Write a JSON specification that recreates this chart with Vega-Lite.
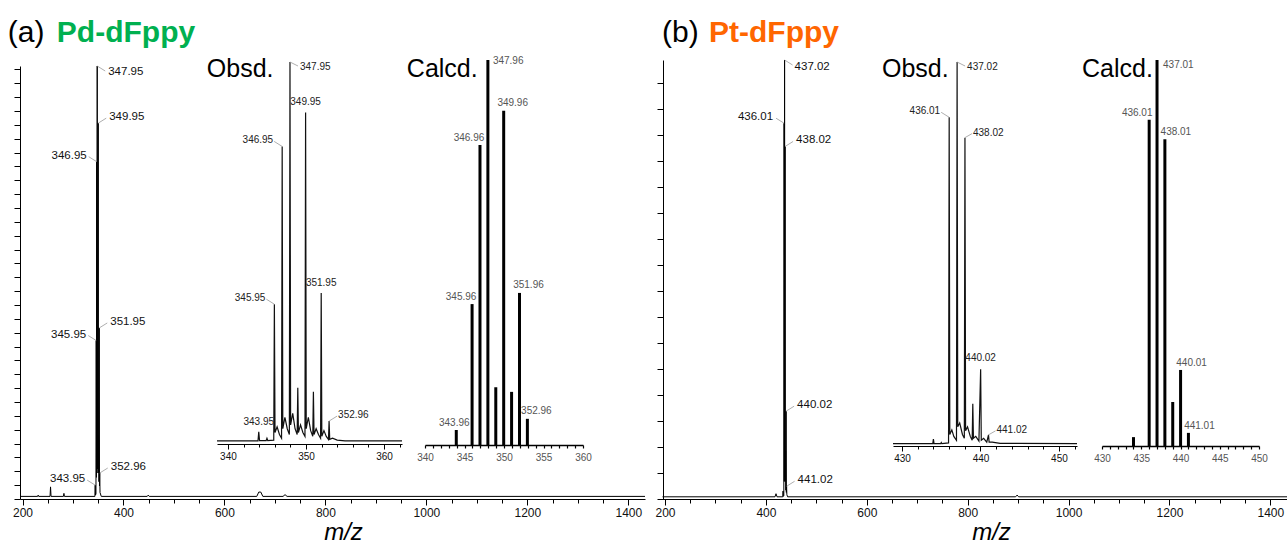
{
  "$schema": "https://vega.github.io/schema/vega-lite/v6.json",
  "width": 1287,
  "height": 543,
  "autosize": {"type": "none"},
  "padding": 0,
  "background": "white",
  "config": {
    "view": {"stroke": null},
    "font": "Liberation Sans",
    "axis": {"grid": false, "labelFont": "Liberation Sans", "titleFont": "Liberation Sans", "domainColor": "#000", "tickColor": "#000", "labelColor": "#111", "labelFlush": false, "labelOverlap": false, "format": "d"},
    "text": {"font": "Liberation Sans"}
  },
  "datasets": {
    "mainA": [
      {"mz": 195, "int": 0.6}, {"mz": 230, "int": 0.6}, {"mz": 231, "int": 0.9}, {"mz": 232, "int": 0.6},
      {"mz": 254.5, "int": 0.6}, {"mz": 255.5, "int": 2.8}, {"mz": 256.5, "int": 0.6},
      {"mz": 281, "int": 0.6}, {"mz": 282, "int": 1.3}, {"mz": 283, "int": 0.6},
      {"mz": 343.4, "int": 0.6}, {"mz": 343.95, "int": 3.2}, {"mz": 344.5, "int": 0.9},
      {"mz": 345.45, "int": 1.2}, {"mz": 345.95, "int": 36.6}, {"mz": 346.45, "int": 5},
      {"mz": 346.95, "int": 77.9}, {"mz": 347.45, "int": 7}, {"mz": 347.95, "int": 100},
      {"mz": 348.45, "int": 7}, {"mz": 348.95, "int": 14.7}, {"mz": 349.45, "int": 6},
      {"mz": 349.95, "int": 86.8}, {"mz": 350.45, "int": 6}, {"mz": 350.95, "int": 13.7},
      {"mz": 351.45, "int": 4}, {"mz": 351.95, "int": 39.5}, {"mz": 352.45, "int": 3},
      {"mz": 352.96, "int": 6}, {"mz": 353.5, "int": 1.5}, {"mz": 356, "int": 0.6},
      {"mz": 447, "int": 0.6}, {"mz": 449, "int": 0.9}, {"mz": 451, "int": 0.6},
      {"mz": 664, "int": 0.6}, {"mz": 668, "int": 1.6}, {"mz": 672, "int": 1.6}, {"mz": 676, "int": 0.6},
      {"mz": 716, "int": 0.6}, {"mz": 720, "int": 1.0}, {"mz": 724, "int": 0.6},
      {"mz": 1433, "int": 0.6}
    ],
    "pkA": [
      {"mz": 347.95, "int": 100, "label": "347.95"},
      {"mz": 349.95, "int": 86.8, "label": "349.95"},
      {"mz": 346.95, "int": 77.9, "label": "346.95"},
      {"mz": 345.95, "int": 36.6, "label": "345.95"},
      {"mz": 351.95, "int": 39.5, "label": "351.95"},
      {"mz": 352.96, "int": 6, "label": "352.96"},
      {"mz": 343.95, "int": 3.2, "label": "343.95"}
    ],
    "obsA": [
      {"mz": 338.6, "int": 0.8}, {"mz": 343.85, "int": 0.8}, {"mz": 343.95, "int": 3.2}, {"mz": 344.05, "int": 0.9},
      {"mz": 344.9, "int": 0.9}, {"mz": 345.0, "int": 1.5}, {"mz": 345.1, "int": 0.9},
      {"mz": 345.87, "int": 1}, {"mz": 345.95, "int": 36.6}, {"mz": 346.03, "int": 3}, {"mz": 346.3, "int": 4.5}, {"mz": 346.6, "int": 2.5}, {"mz": 346.87, "int": 1.5},
      {"mz": 346.95, "int": 77.9}, {"mz": 347.03, "int": 4}, {"mz": 347.3, "int": 7}, {"mz": 347.6, "int": 4}, {"mz": 347.87, "int": 2.5},
      {"mz": 347.95, "int": 100}, {"mz": 348.03, "int": 5}, {"mz": 348.3, "int": 8}, {"mz": 348.6, "int": 4}, {"mz": 348.87, "int": 2.5},
      {"mz": 348.95, "int": 14.7}, {"mz": 349.03, "int": 3}, {"mz": 349.3, "int": 5}, {"mz": 349.6, "int": 3}, {"mz": 349.87, "int": 2},
      {"mz": 349.95, "int": 86.8}, {"mz": 350.03, "int": 4}, {"mz": 350.3, "int": 7}, {"mz": 350.6, "int": 3.5}, {"mz": 350.87, "int": 2},
      {"mz": 350.95, "int": 13.7}, {"mz": 351.03, "int": 2.5}, {"mz": 351.3, "int": 4}, {"mz": 351.6, "int": 2.5}, {"mz": 351.87, "int": 1.5},
      {"mz": 351.95, "int": 39.5}, {"mz": 352.03, "int": 2}, {"mz": 352.3, "int": 3.5}, {"mz": 352.6, "int": 2}, {"mz": 352.88, "int": 1.2},
      {"mz": 352.96, "int": 6}, {"mz": 353.04, "int": 1.2}, {"mz": 353.4, "int": 1.5}, {"mz": 354, "int": 1}, {"mz": 355, "int": 0.8},
      {"mz": 362.3, "int": 0.8}
    ],
    "calA": [
      {"mz": 343.96, "int": 3.9, "label": "343.96"},
      {"mz": 345.96, "int": 36.6, "label": "345.96"},
      {"mz": 346.96, "int": 77.9, "label": "346.96"},
      {"mz": 347.96, "int": 100, "label": "347.96"},
      {"mz": 348.96, "int": 15, "label": ""},
      {"mz": 349.96, "int": 86.8, "label": "349.96"},
      {"mz": 350.96, "int": 13.8, "label": ""},
      {"mz": 351.96, "int": 39.5, "label": "351.96"},
      {"mz": 352.96, "int": 6.8, "label": "352.96"}
    ],
    "mainB": [
      {"mz": 195, "int": 0.5}, {"mz": 418, "int": 0.5}, {"mz": 420, "int": 1.2}, {"mz": 422, "int": 0.5},
      {"mz": 433.5, "int": 0.5}, {"mz": 434, "int": 1.8}, {"mz": 434.5, "int": 0.6}, {"mz": 435.5, "int": 0.8},
      {"mz": 436.01, "int": 85.6}, {"mz": 436.5, "int": 4}, {"mz": 437.02, "int": 100}, {"mz": 437.5, "int": 5},
      {"mz": 438.02, "int": 80.3}, {"mz": 438.5, "int": 4}, {"mz": 439.02, "int": 11}, {"mz": 439.5, "int": 2},
      {"mz": 440.02, "int": 20}, {"mz": 440.5, "int": 1.5}, {"mz": 441.02, "int": 2.9}, {"mz": 441.5, "int": 1},
      {"mz": 443, "int": 0.5}, {"mz": 895, "int": 0.5}, {"mz": 898, "int": 0.9}, {"mz": 901, "int": 0.5},
      {"mz": 1433, "int": 0.5}
    ],
    "pkB": [
      {"mz": 437.02, "int": 100, "label": "437.02"},
      {"mz": 436.01, "int": 85.6, "label": "436.01"},
      {"mz": 438.02, "int": 80.3, "label": "438.02"},
      {"mz": 440.02, "int": 20, "label": "440.02"},
      {"mz": 441.02, "int": 2.9, "label": "441.02"}
    ],
    "obsB": [
      {"mz": 428.85, "int": 0.6}, {"mz": 433.92, "int": 0.6}, {"mz": 434.0, "int": 1.8}, {"mz": 434.08, "int": 0.6},
      {"mz": 434.92, "int": 0.6}, {"mz": 435.0, "int": 0.9}, {"mz": 435.08, "int": 0.6},
      {"mz": 435.93, "int": 0.8}, {"mz": 436.01, "int": 85.6}, {"mz": 436.09, "int": 3}, {"mz": 436.35, "int": 4.2}, {"mz": 436.6, "int": 2.5}, {"mz": 436.94, "int": 1.5},
      {"mz": 437.02, "int": 100}, {"mz": 437.1, "int": 5}, {"mz": 437.35, "int": 6}, {"mz": 437.7, "int": 3}, {"mz": 437.94, "int": 2},
      {"mz": 438.02, "int": 80.3}, {"mz": 438.1, "int": 4}, {"mz": 438.35, "int": 5}, {"mz": 438.7, "int": 2.5}, {"mz": 438.94, "int": 1.5},
      {"mz": 439.02, "int": 11}, {"mz": 439.1, "int": 2}, {"mz": 439.4, "int": 2.5}, {"mz": 439.8, "int": 1.3},
      {"mz": 440.02, "int": 20}, {"mz": 440.1, "int": 1.5}, {"mz": 440.4, "int": 2}, {"mz": 440.8, "int": 1},
      {"mz": 441.02, "int": 2.9}, {"mz": 441.1, "int": 1}, {"mz": 441.5, "int": 1}, {"mz": 442.5, "int": 0.7},
      {"mz": 452.3, "int": 0.6}
    ],
    "calB": [
      {"mz": 434.01, "int": 2.3, "label": ""},
      {"mz": 436.01, "int": 84.5, "label": "436.01"},
      {"mz": 437.01, "int": 100, "label": "437.01"},
      {"mz": 438.01, "int": 79.5, "label": "438.01"},
      {"mz": 439.01, "int": 11.4, "label": ""},
      {"mz": 440.01, "int": 19.7, "label": "440.01"},
      {"mz": 441.01, "int": 3.4, "label": "441.01"}
    ],
    "titles": [
      {"t": "(a)"}, {"t": "Pd-dFppy"}, {"t": "(b)"}, {"t": "Pt-dFppy"}, {"t": "Obsd."}, {"t": "Calcd."}
    ]
  },
  "layer": [
    {"data": {"name": "mainA"}, "mark": {"type": "line", "color": "#000", "strokeWidth": 1},
     "encoding": {
       "x": {"field": "mz", "type": "quantitative", "scale": {"domain": [195, 1433], "range": [20, 645], "nice": false, "zero": false},
         "axis": {"orient": "bottom", "offset": -44, "values": [200, 400, 600, 800, 1000, 1200, 1400], "tickSize": 6,
           "labelFontSize": 12, "labelPadding": 2,
           "title": "m/z", "titleFontStyle": "italic", "titleFontWeight": "normal", "titleFontSize": 24, "titleColor": "#000",
           "titleX": 343, "titleY": 40, "titleAlign": "center", "titleBaseline": "alphabetic"}},
       "y": {"field": "int", "type": "quantitative", "scale": {"domain": [0, 100], "range": [499, 66], "nice": false},
         "axis": {"orient": "left", "offset": -20, "labels": false, "title": null, "tickSize": 6,
           "values": [0,3.2,6.4,9.6,12.8,16,19.2,22.4,25.6,28.8,32,35.2,38.4,41.6,44.8,48,51.2,54.4,57.6,60.8,64,67.2,70.4,73.6,76.8,80,83.2,86.4,89.6,92.8,96,99.2]}}
     }},
    {"data": {"name": "pkA"}, "transform": [{"filter": {"field": "label", "oneOf": ["347.95"]}}],
     "mark": {"type": "rule", "color": "#999", "strokeWidth": 0.8, "x2Offset": 8, "y2Offset": 5},
     "encoding": {
       "x": {"field": "mz", "type": "quantitative", "scale": {"domain": [195, 1433], "range": [20, 645], "nice": false, "zero": false},
         "axis": {"orient": "bottom", "offset": -44, "values": [250,300,350,450,500,550,650,700,750,850,900,950,1050,1100,1150,1250,1300,1350],
           "tickSize": 4, "labels": false, "domain": false, "title": null}},
       "y": {"field": "int", "type": "quantitative", "scale": {"domain": [0, 100], "range": [499, 66], "nice": false}, "axis": null},
       "x2": {"field": "mz"}, "y2": {"field": "int"}}},
    {"data": {"name": "pkA"}, "transform": [{"filter": {"field": "label", "oneOf": ["347.95"]}}],
     "mark": {"type": "text", "align": "left", "baseline": "middle", "dx": 11, "dy": 6, "fontSize": 11.5, "color": "#111"},
     "encoding": {
       "x": {"field": "mz", "type": "quantitative", "scale": {"domain": [195, 1433], "range": [20, 645], "nice": false, "zero": false}, "axis": null},
       "y": {"field": "int", "type": "quantitative", "scale": {"domain": [0, 100], "range": [499, 66], "nice": false}, "axis": null},
       "text": {"field": "label"}}},
    {"data": {"name": "pkA"}, "transform": [{"filter": {"field": "label", "oneOf": ["349.95", "351.95", "352.96"]}}],
     "mark": {"type": "rule", "color": "#999", "strokeWidth": 0.8, "x2Offset": 8, "y2Offset": -5},
     "encoding": {
       "x": {"field": "mz", "type": "quantitative", "scale": {"domain": [195, 1433], "range": [20, 645], "nice": false, "zero": false}, "axis": null},
       "y": {"field": "int", "type": "quantitative", "scale": {"domain": [0, 100], "range": [499, 66], "nice": false}, "axis": null},
       "x2": {"field": "mz"}, "y2": {"field": "int"}}},
    {"data": {"name": "pkA"}, "transform": [{"filter": {"field": "label", "oneOf": ["349.95", "351.95", "352.96"]}}],
     "mark": {"type": "text", "align": "left", "baseline": "middle", "dx": 11, "dy": -6, "fontSize": 11.5, "color": "#111"},
     "encoding": {
       "x": {"field": "mz", "type": "quantitative", "scale": {"domain": [195, 1433], "range": [20, 645], "nice": false, "zero": false}, "axis": null},
       "y": {"field": "int", "type": "quantitative", "scale": {"domain": [0, 100], "range": [499, 66], "nice": false}, "axis": null},
       "text": {"field": "label"}}},
    {"data": {"name": "pkA"}, "transform": [{"filter": {"field": "label", "oneOf": ["346.95", "345.95", "343.95"]}}],
     "mark": {"type": "rule", "color": "#999", "strokeWidth": 0.8, "x2Offset": -8, "y2Offset": -5},
     "encoding": {
       "x": {"field": "mz", "type": "quantitative", "scale": {"domain": [195, 1433], "range": [20, 645], "nice": false, "zero": false}, "axis": null},
       "y": {"field": "int", "type": "quantitative", "scale": {"domain": [0, 100], "range": [499, 66], "nice": false}, "axis": null},
       "x2": {"field": "mz"}, "y2": {"field": "int"}}},
    {"data": {"name": "pkA"}, "transform": [{"filter": {"field": "label", "oneOf": ["346.95", "345.95", "343.95"]}}],
     "mark": {"type": "text", "align": "right", "baseline": "middle", "dx": -10, "dy": -6, "fontSize": 11.5, "color": "#111"},
     "encoding": {
       "x": {"field": "mz", "type": "quantitative", "scale": {"domain": [195, 1433], "range": [20, 645], "nice": false, "zero": false}, "axis": null},
       "y": {"field": "int", "type": "quantitative", "scale": {"domain": [0, 100], "range": [499, 66], "nice": false}, "axis": null},
       "text": {"field": "label"}}},
    {"data": {"name": "titles"}, "transform": [{"filter": {"field": "t", "oneOf": ["(a)"]}}],
     "mark": {"type": "text", "align": "left", "baseline": "alphabetic", "fontSize": 30, "color": "#000"},
     "encoding": {
       "x": {"datum": 170.8, "type": "quantitative", "scale": {"domain": [195, 1433], "range": [20, 645], "nice": false, "zero": false}, "axis": null},
       "y": {"datum": 105.5, "type": "quantitative", "scale": {"domain": [0, 100], "range": [499, 66], "nice": false}, "axis": null},
       "text": {"field": "t"}}},
    {"data": {"name": "titles"}, "transform": [{"filter": {"field": "t", "oneOf": ["Pd-dFppy"]}}],
     "mark": {"type": "text", "align": "left", "baseline": "alphabetic", "fontSize": 30, "fontWeight": "bold", "color": "#00b050"},
     "encoding": {
       "x": {"datum": 268, "type": "quantitative", "scale": {"domain": [195, 1433], "range": [20, 645], "nice": false, "zero": false}, "axis": null},
       "y": {"datum": 105.5, "type": "quantitative", "scale": {"domain": [0, 100], "range": [499, 66], "nice": false}, "axis": null},
       "text": {"field": "t"}}},

    {"data": {"name": "obsA"}, "mark": {"type": "line", "color": "#111", "strokeWidth": 1.2},
     "encoding": {
       "x": {"field": "mz", "type": "quantitative", "scale": {"domain": [338.6, 362.3], "range": [217, 402], "nice": false, "zero": false},
         "axis": {"orient": "bottom", "offset": -99, "values": [340, 350, 360], "tickSize": 5, "labelFontSize": 10, "labelPadding": 2, "domainWidth": 1.2, "title": null}},
       "y": {"field": "int", "type": "quantitative", "scale": {"domain": [0, 100], "range": [444, 62], "nice": false}, "axis": null}}},
    {"data": {"name": "pkA"}, "transform": [{"filter": {"field": "label", "oneOf": ["347.95"]}}],
     "mark": {"type": "rule", "color": "#999", "strokeWidth": 0.8, "x2Offset": 8, "y2Offset": 4},
     "encoding": {
       "x": {"field": "mz", "type": "quantitative", "scale": {"domain": [338.6, 362.3], "range": [217, 402], "nice": false, "zero": false},
         "axis": {"orient": "bottom", "offset": -99, "values": [342, 344, 346, 348, 352, 354, 356, 358, 362], "tickSize": 3, "labels": false, "domain": false, "title": null}},
       "y": {"field": "int", "type": "quantitative", "scale": {"domain": [0, 100], "range": [444, 62], "nice": false}, "axis": null},
       "x2": {"field": "mz"}, "y2": {"field": "int"}}},
    {"data": {"name": "pkA"}, "transform": [{"filter": {"field": "label", "oneOf": ["347.95"]}}],
     "mark": {"type": "text", "align": "left", "baseline": "middle", "dx": 10, "dy": 5, "fontSize": 10, "color": "#222"},
     "encoding": {
       "x": {"field": "mz", "type": "quantitative", "scale": {"domain": [338.6, 362.3], "range": [217, 402], "nice": false, "zero": false}, "axis": null},
       "y": {"field": "int", "type": "quantitative", "scale": {"domain": [0, 100], "range": [444, 62], "nice": false}, "axis": null},
       "text": {"field": "label"}}},
    {"data": {"name": "pkA"}, "transform": [{"filter": {"field": "label", "oneOf": ["352.96"]}}],
     "mark": {"type": "rule", "color": "#999", "strokeWidth": 0.8, "x2Offset": 8, "y2Offset": -5},
     "encoding": {
       "x": {"field": "mz", "type": "quantitative", "scale": {"domain": [338.6, 362.3], "range": [217, 402], "nice": false, "zero": false}, "axis": null},
       "y": {"field": "int", "type": "quantitative", "scale": {"domain": [0, 100], "range": [444, 62], "nice": false}, "axis": null},
       "x2": {"field": "mz"}, "y2": {"field": "int"}}},
    {"data": {"name": "pkA"}, "transform": [{"filter": {"field": "label", "oneOf": ["352.96"]}}],
     "mark": {"type": "text", "align": "left", "baseline": "middle", "dx": 9, "dy": -6, "fontSize": 10, "color": "#222"},
     "encoding": {
       "x": {"field": "mz", "type": "quantitative", "scale": {"domain": [338.6, 362.3], "range": [217, 402], "nice": false, "zero": false}, "axis": null},
       "y": {"field": "int", "type": "quantitative", "scale": {"domain": [0, 100], "range": [444, 62], "nice": false}, "axis": null},
       "text": {"field": "label"}}},
    {"data": {"name": "pkA"}, "transform": [{"filter": {"field": "label", "oneOf": ["346.95", "345.95"]}}],
     "mark": {"type": "rule", "color": "#999", "strokeWidth": 0.8, "x2Offset": -8, "y2Offset": -5},
     "encoding": {
       "x": {"field": "mz", "type": "quantitative", "scale": {"domain": [338.6, 362.3], "range": [217, 402], "nice": false, "zero": false}, "axis": null},
       "y": {"field": "int", "type": "quantitative", "scale": {"domain": [0, 100], "range": [444, 62], "nice": false}, "axis": null},
       "x2": {"field": "mz"}, "y2": {"field": "int"}}},
    {"data": {"name": "pkA"}, "transform": [{"filter": {"field": "label", "oneOf": ["346.95", "345.95"]}}],
     "mark": {"type": "text", "align": "right", "baseline": "middle", "dx": -9, "dy": -6, "fontSize": 10, "color": "#222"},
     "encoding": {
       "x": {"field": "mz", "type": "quantitative", "scale": {"domain": [338.6, 362.3], "range": [217, 402], "nice": false, "zero": false}, "axis": null},
       "y": {"field": "int", "type": "quantitative", "scale": {"domain": [0, 100], "range": [444, 62], "nice": false}, "axis": null},
       "text": {"field": "label"}}},
    {"data": {"name": "pkA"}, "transform": [{"filter": {"field": "label", "oneOf": ["349.95", "351.95", "343.95"]}}],
     "mark": {"type": "text", "align": "center", "baseline": "middle", "dy": -10, "fontSize": 10, "color": "#222"},
     "encoding": {
       "x": {"field": "mz", "type": "quantitative", "scale": {"domain": [338.6, 362.3], "range": [217, 402], "nice": false, "zero": false}, "axis": null},
       "y": {"field": "int", "type": "quantitative", "scale": {"domain": [0, 100], "range": [444, 62], "nice": false}, "axis": null},
       "text": {"field": "label"}}},
    {"data": {"name": "titles"}, "transform": [{"filter": {"field": "t", "oneOf": ["Obsd."]}}],
     "mark": {"type": "text", "align": "left", "baseline": "alphabetic", "fontSize": 25, "color": "#000"},
     "encoding": {
       "x": {"datum": 337.3, "type": "quantitative", "scale": {"domain": [338.6, 362.3], "range": [217, 402], "nice": false, "zero": false}, "axis": null},
       "y": {"datum": 96.1, "type": "quantitative", "scale": {"domain": [0, 100], "range": [444, 62], "nice": false}, "axis": null},
       "text": {"field": "t"}}},

    {"data": {"name": "calA"}, "mark": {"type": "rule", "color": "#000", "strokeWidth": 3},
     "encoding": {
       "x": {"field": "mz", "type": "quantitative", "scale": {"domain": [340, 360], "range": [425, 583], "nice": false, "zero": false},
         "axis": {"orient": "bottom", "offset": -98, "title": null,
           "values": [340,341,342,343,344,345,346,347,348,349,350,351,352,353,354,355,356,357,358,359,360],
           "labelExpr": "datum.value % 5 === 0 ? datum.label : ''",
           "tickSize": 3, "labelFontSize": 10, "labelColor": "#555", "labelPadding": 4, "domainWidth": 1.5, "tickWidth": 1.2}},
       "y": {"field": "int", "type": "quantitative", "scale": {"domain": [0, 100], "range": [445, 60], "nice": false}, "axis": null},
       "y2": {"datum": 0}}},
    {"data": {"name": "calA"}, "transform": [{"filter": {"field": "label", "oneOf": ["347.96"]}}],
     "mark": {"type": "text", "align": "left", "baseline": "middle", "dx": 5, "dy": 1, "fontSize": 10, "color": "#555"},
     "encoding": {
       "x": {"field": "mz", "type": "quantitative", "scale": {"domain": [340, 360], "range": [425, 583], "nice": false, "zero": false}, "axis": null},
       "y": {"field": "int", "type": "quantitative", "scale": {"domain": [0, 100], "range": [445, 60], "nice": false}, "axis": null},
       "text": {"field": "label"}}},
    {"data": {"name": "calA"}, "transform": [{"filter": {"field": "label", "oneOf": ["346.96", "345.96"]}}],
     "mark": {"type": "text", "align": "center", "baseline": "middle", "dx": -11, "dy": -7, "fontSize": 10, "color": "#555"},
     "encoding": {
       "x": {"field": "mz", "type": "quantitative", "scale": {"domain": [340, 360], "range": [425, 583], "nice": false, "zero": false}, "axis": null},
       "y": {"field": "int", "type": "quantitative", "scale": {"domain": [0, 100], "range": [445, 60], "nice": false}, "axis": null},
       "text": {"field": "label"}}},
    {"data": {"name": "calA"}, "transform": [{"filter": {"field": "label", "oneOf": ["343.96"]}}],
     "mark": {"type": "text", "align": "center", "baseline": "middle", "dx": -2, "dy": -7, "fontSize": 10, "color": "#555"},
     "encoding": {
       "x": {"field": "mz", "type": "quantitative", "scale": {"domain": [340, 360], "range": [425, 583], "nice": false, "zero": false}, "axis": null},
       "y": {"field": "int", "type": "quantitative", "scale": {"domain": [0, 100], "range": [445, 60], "nice": false}, "axis": null},
       "text": {"field": "label"}}},
    {"data": {"name": "calA"}, "transform": [{"filter": {"field": "label", "oneOf": ["349.96", "351.96", "352.96"]}}],
     "mark": {"type": "text", "align": "center", "baseline": "middle", "dx": 9, "dy": -8, "fontSize": 10, "color": "#555"},
     "encoding": {
       "x": {"field": "mz", "type": "quantitative", "scale": {"domain": [340, 360], "range": [425, 583], "nice": false, "zero": false}, "axis": null},
       "y": {"field": "int", "type": "quantitative", "scale": {"domain": [0, 100], "range": [445, 60], "nice": false}, "axis": null},
       "text": {"field": "label"}}},
    {"data": {"name": "titles"}, "transform": [{"filter": {"field": "t", "oneOf": ["Calcd."]}}],
     "mark": {"type": "text", "align": "left", "baseline": "alphabetic", "fontSize": 25, "color": "#000"},
     "encoding": {
       "x": {"datum": 337.7, "type": "quantitative", "scale": {"domain": [340, 360], "range": [425, 583], "nice": false, "zero": false}, "axis": null},
       "y": {"datum": 95.6, "type": "quantitative", "scale": {"domain": [0, 100], "range": [445, 60], "nice": false}, "axis": null},
       "text": {"field": "t"}}},

    {"data": {"name": "mainB"}, "mark": {"type": "line", "color": "#000", "strokeWidth": 1},
     "encoding": {
       "x": {"field": "mz", "type": "quantitative", "scale": {"domain": [195, 1433], "range": [662.5, 1287], "nice": false, "zero": false},
         "axis": {"orient": "bottom", "offset": -44, "values": [200, 400, 600, 800, 1000, 1200, 1400], "tickSize": 6,
           "labelFontSize": 12, "labelPadding": 2,
           "title": "m/z", "titleFontStyle": "italic", "titleFontWeight": "normal", "titleFontSize": 24, "titleColor": "#000",
           "titleX": 991, "titleY": 40, "titleAlign": "center", "titleBaseline": "alphabetic"}},
       "y": {"field": "int", "type": "quantitative", "scale": {"domain": [0, 100], "range": [499, 60], "nice": false},
         "axis": {"orient": "left", "offset": -663, "labels": false, "title": null, "tickSize": 6,
           "values": [0,5.92,11.84,17.76,23.68,29.6,35.52,41.44,47.36,53.28,59.2,65.12,71.04,76.96,82.88,88.8,94.72]}}
     }},
    {"data": {"name": "pkB"}, "transform": [{"filter": {"field": "label", "oneOf": ["437.02"]}}],
     "mark": {"type": "rule", "color": "#999", "strokeWidth": 0.8, "x2Offset": 8, "y2Offset": 5},
     "encoding": {
       "x": {"field": "mz", "type": "quantitative", "scale": {"domain": [195, 1433], "range": [662.5, 1287], "nice": false, "zero": false},
         "axis": {"orient": "bottom", "offset": -44, "values": [250,300,350,450,500,550,650,700,750,850,900,950,1050,1100,1150,1250,1300,1350],
           "tickSize": 4, "labels": false, "domain": false, "title": null}},
       "y": {"field": "int", "type": "quantitative", "scale": {"domain": [0, 100], "range": [499, 60], "nice": false}, "axis": null},
       "x2": {"field": "mz"}, "y2": {"field": "int"}}},
    {"data": {"name": "pkB"}, "transform": [{"filter": {"field": "label", "oneOf": ["437.02"]}}],
     "mark": {"type": "text", "align": "left", "baseline": "middle", "dx": 10, "dy": 7, "fontSize": 11.5, "color": "#111"},
     "encoding": {
       "x": {"field": "mz", "type": "quantitative", "scale": {"domain": [195, 1433], "range": [662.5, 1287], "nice": false, "zero": false}, "axis": null},
       "y": {"field": "int", "type": "quantitative", "scale": {"domain": [0, 100], "range": [499, 60], "nice": false}, "axis": null},
       "text": {"field": "label"}}},
    {"data": {"name": "pkB"}, "transform": [{"filter": {"field": "label", "oneOf": ["438.02", "440.02", "441.02"]}}],
     "mark": {"type": "rule", "color": "#999", "strokeWidth": 0.8, "x2Offset": 8, "y2Offset": -5},
     "encoding": {
       "x": {"field": "mz", "type": "quantitative", "scale": {"domain": [195, 1433], "range": [662.5, 1287], "nice": false, "zero": false}, "axis": null},
       "y": {"field": "int", "type": "quantitative", "scale": {"domain": [0, 100], "range": [499, 60], "nice": false}, "axis": null},
       "x2": {"field": "mz"}, "y2": {"field": "int"}}},
    {"data": {"name": "pkB"}, "transform": [{"filter": {"field": "label", "oneOf": ["438.02", "440.02", "441.02"]}}],
     "mark": {"type": "text", "align": "left", "baseline": "middle", "dx": 11, "dy": -6, "fontSize": 11.5, "color": "#111"},
     "encoding": {
       "x": {"field": "mz", "type": "quantitative", "scale": {"domain": [195, 1433], "range": [662.5, 1287], "nice": false, "zero": false}, "axis": null},
       "y": {"field": "int", "type": "quantitative", "scale": {"domain": [0, 100], "range": [499, 60], "nice": false}, "axis": null},
       "text": {"field": "label"}}},
    {"data": {"name": "pkB"}, "transform": [{"filter": {"field": "label", "oneOf": ["436.01"]}}],
     "mark": {"type": "rule", "color": "#999", "strokeWidth": 0.8, "x2Offset": -8, "y2Offset": -5},
     "encoding": {
       "x": {"field": "mz", "type": "quantitative", "scale": {"domain": [195, 1433], "range": [662.5, 1287], "nice": false, "zero": false}, "axis": null},
       "y": {"field": "int", "type": "quantitative", "scale": {"domain": [0, 100], "range": [499, 60], "nice": false}, "axis": null},
       "x2": {"field": "mz"}, "y2": {"field": "int"}}},
    {"data": {"name": "pkB"}, "transform": [{"filter": {"field": "label", "oneOf": ["436.01"]}}],
     "mark": {"type": "text", "align": "right", "baseline": "middle", "dx": -11, "dy": -6, "fontSize": 11.5, "color": "#111"},
     "encoding": {
       "x": {"field": "mz", "type": "quantitative", "scale": {"domain": [195, 1433], "range": [662.5, 1287], "nice": false, "zero": false}, "axis": null},
       "y": {"field": "int", "type": "quantitative", "scale": {"domain": [0, 100], "range": [499, 60], "nice": false}, "axis": null},
       "text": {"field": "label"}}},
    {"data": {"name": "titles"}, "transform": [{"filter": {"field": "t", "oneOf": ["(b)"]}}],
     "mark": {"type": "text", "align": "left", "baseline": "alphabetic", "fontSize": 30, "color": "#000"},
     "encoding": {
       "x": {"datum": 194, "type": "quantitative", "scale": {"domain": [195, 1433], "range": [662.5, 1287], "nice": false, "zero": false}, "axis": null},
       "y": {"datum": 104.1, "type": "quantitative", "scale": {"domain": [0, 100], "range": [499, 60], "nice": false}, "axis": null},
       "text": {"field": "t"}}},
    {"data": {"name": "titles"}, "transform": [{"filter": {"field": "t", "oneOf": ["Pt-dFppy"]}}],
     "mark": {"type": "text", "align": "left", "baseline": "alphabetic", "fontSize": 30, "fontWeight": "bold", "color": "#ff6600"},
     "encoding": {
       "x": {"datum": 287.2, "type": "quantitative", "scale": {"domain": [195, 1433], "range": [662.5, 1287], "nice": false, "zero": false}, "axis": null},
       "y": {"datum": 104.1, "type": "quantitative", "scale": {"domain": [0, 100], "range": [499, 60], "nice": false}, "axis": null},
       "text": {"field": "t"}}},

    {"data": {"name": "obsB"}, "mark": {"type": "line", "color": "#111", "strokeWidth": 1.2},
     "encoding": {
       "x": {"field": "mz", "type": "quantitative", "scale": {"domain": [428.85, 452.3], "range": [893, 1077], "nice": false, "zero": false},
         "axis": {"orient": "bottom", "offset": -97, "values": [430, 440, 450], "tickSize": 5, "labelFontSize": 10, "labelPadding": 2, "domainWidth": 1.2, "title": null}},
       "y": {"field": "int", "type": "quantitative", "scale": {"domain": [0, 100], "range": [446, 62], "nice": false}, "axis": null}}},
    {"data": {"name": "pkB"}, "transform": [{"filter": {"field": "label", "oneOf": ["437.02"]}}],
     "mark": {"type": "rule", "color": "#999", "strokeWidth": 0.8, "x2Offset": 8, "y2Offset": 4},
     "encoding": {
       "x": {"field": "mz", "type": "quantitative", "scale": {"domain": [428.85, 452.3], "range": [893, 1077], "nice": false, "zero": false},
         "axis": {"orient": "bottom", "offset": -97, "values": [432, 434, 436, 438, 442, 444, 446, 448, 452], "tickSize": 3, "labels": false, "domain": false, "title": null}},
       "y": {"field": "int", "type": "quantitative", "scale": {"domain": [0, 100], "range": [446, 62], "nice": false}, "axis": null},
       "x2": {"field": "mz"}, "y2": {"field": "int"}}},
    {"data": {"name": "pkB"}, "transform": [{"filter": {"field": "label", "oneOf": ["437.02"]}}],
     "mark": {"type": "text", "align": "left", "baseline": "middle", "dx": 10, "dy": 5, "fontSize": 10, "color": "#222"},
     "encoding": {
       "x": {"field": "mz", "type": "quantitative", "scale": {"domain": [428.85, 452.3], "range": [893, 1077], "nice": false, "zero": false}, "axis": null},
       "y": {"field": "int", "type": "quantitative", "scale": {"domain": [0, 100], "range": [446, 62], "nice": false}, "axis": null},
       "text": {"field": "label"}}},
    {"data": {"name": "pkB"}, "transform": [{"filter": {"field": "label", "oneOf": ["438.02", "441.02"]}}],
     "mark": {"type": "rule", "color": "#999", "strokeWidth": 0.8, "x2Offset": 7, "y2Offset": -4},
     "encoding": {
       "x": {"field": "mz", "type": "quantitative", "scale": {"domain": [428.85, 452.3], "range": [893, 1077], "nice": false, "zero": false}, "axis": null},
       "y": {"field": "int", "type": "quantitative", "scale": {"domain": [0, 100], "range": [446, 62], "nice": false}, "axis": null},
       "x2": {"field": "mz"}, "y2": {"field": "int"}}},
    {"data": {"name": "pkB"}, "transform": [{"filter": {"field": "label", "oneOf": ["438.02", "441.02"]}}],
     "mark": {"type": "text", "align": "left", "baseline": "middle", "dx": 8, "dy": -5, "fontSize": 10, "color": "#222"},
     "encoding": {
       "x": {"field": "mz", "type": "quantitative", "scale": {"domain": [428.85, 452.3], "range": [893, 1077], "nice": false, "zero": false}, "axis": null},
       "y": {"field": "int", "type": "quantitative", "scale": {"domain": [0, 100], "range": [446, 62], "nice": false}, "axis": null},
       "text": {"field": "label"}}},
    {"data": {"name": "pkB"}, "transform": [{"filter": {"field": "label", "oneOf": ["436.01"]}}],
     "mark": {"type": "rule", "color": "#999", "strokeWidth": 0.8, "x2Offset": -8, "y2Offset": -5},
     "encoding": {
       "x": {"field": "mz", "type": "quantitative", "scale": {"domain": [428.85, 452.3], "range": [893, 1077], "nice": false, "zero": false}, "axis": null},
       "y": {"field": "int", "type": "quantitative", "scale": {"domain": [0, 100], "range": [446, 62], "nice": false}, "axis": null},
       "x2": {"field": "mz"}, "y2": {"field": "int"}}},
    {"data": {"name": "pkB"}, "transform": [{"filter": {"field": "label", "oneOf": ["436.01"]}}],
     "mark": {"type": "text", "align": "right", "baseline": "middle", "dx": -9, "dy": -6, "fontSize": 10, "color": "#222"},
     "encoding": {
       "x": {"field": "mz", "type": "quantitative", "scale": {"domain": [428.85, 452.3], "range": [893, 1077], "nice": false, "zero": false}, "axis": null},
       "y": {"field": "int", "type": "quantitative", "scale": {"domain": [0, 100], "range": [446, 62], "nice": false}, "axis": null},
       "text": {"field": "label"}}},
    {"data": {"name": "pkB"}, "transform": [{"filter": {"field": "label", "oneOf": ["440.02"]}}],
     "mark": {"type": "text", "align": "center", "baseline": "middle", "dy": -11, "fontSize": 10, "color": "#222"},
     "encoding": {
       "x": {"field": "mz", "type": "quantitative", "scale": {"domain": [428.85, 452.3], "range": [893, 1077], "nice": false, "zero": false}, "axis": null},
       "y": {"field": "int", "type": "quantitative", "scale": {"domain": [0, 100], "range": [446, 62], "nice": false}, "axis": null},
       "text": {"field": "label"}}},
    {"data": {"name": "titles"}, "transform": [{"filter": {"field": "t", "oneOf": ["Obsd."]}}],
     "mark": {"type": "text", "align": "left", "baseline": "alphabetic", "fontSize": 25, "color": "#000"},
     "encoding": {
       "x": {"datum": 427.45, "type": "quantitative", "scale": {"domain": [428.85, 452.3], "range": [893, 1077], "nice": false, "zero": false}, "axis": null},
       "y": {"datum": 96.1, "type": "quantitative", "scale": {"domain": [0, 100], "range": [446, 62], "nice": false}, "axis": null},
       "text": {"field": "t"}}},

    {"data": {"name": "calB"}, "mark": {"type": "rule", "color": "#000", "strokeWidth": 3},
     "encoding": {
       "x": {"field": "mz", "type": "quantitative", "scale": {"domain": [430, 450], "range": [1102, 1259], "nice": false, "zero": false},
         "axis": {"orient": "bottom", "offset": -97, "title": null,
           "values": [430,431,432,433,434,435,436,437,438,439,440,441,442,443,444,445,446,447,448,449,450],
           "labelExpr": "datum.value % 5 === 0 ? datum.label : ''",
           "tickSize": 3, "labelFontSize": 10, "labelColor": "#555", "labelPadding": 4, "domainWidth": 1.5, "tickWidth": 1.2}},
       "y": {"field": "int", "type": "quantitative", "scale": {"domain": [0, 100], "range": [446, 60], "nice": false}, "axis": null},
       "y2": {"datum": 0}}},
    {"data": {"name": "calB"}, "transform": [{"filter": {"field": "label", "oneOf": ["437.01"]}}],
     "mark": {"type": "text", "align": "left", "baseline": "middle", "dx": 6, "dy": 5, "fontSize": 10, "color": "#555"},
     "encoding": {
       "x": {"field": "mz", "type": "quantitative", "scale": {"domain": [430, 450], "range": [1102, 1259], "nice": false, "zero": false}, "axis": null},
       "y": {"field": "int", "type": "quantitative", "scale": {"domain": [0, 100], "range": [446, 60], "nice": false}, "axis": null},
       "text": {"field": "label"}}},
    {"data": {"name": "calB"}, "transform": [{"filter": {"field": "label", "oneOf": ["436.01"]}}],
     "mark": {"type": "text", "align": "center", "baseline": "middle", "dx": -12, "dy": -7, "fontSize": 10, "color": "#555"},
     "encoding": {
       "x": {"field": "mz", "type": "quantitative", "scale": {"domain": [430, 450], "range": [1102, 1259], "nice": false, "zero": false}, "axis": null},
       "y": {"field": "int", "type": "quantitative", "scale": {"domain": [0, 100], "range": [446, 60], "nice": false}, "axis": null},
       "text": {"field": "label"}}},
    {"data": {"name": "calB"}, "transform": [{"filter": {"field": "label", "oneOf": ["438.01", "440.01", "441.01"]}}],
     "mark": {"type": "text", "align": "center", "baseline": "middle", "dx": 11, "dy": -7, "fontSize": 10, "color": "#555"},
     "encoding": {
       "x": {"field": "mz", "type": "quantitative", "scale": {"domain": [430, 450], "range": [1102, 1259], "nice": false, "zero": false}, "axis": null},
       "y": {"field": "int", "type": "quantitative", "scale": {"domain": [0, 100], "range": [446, 60], "nice": false}, "axis": null},
       "text": {"field": "label"}}},
    {"data": {"name": "titles"}, "transform": [{"filter": {"field": "t", "oneOf": ["Calcd."]}}],
     "mark": {"type": "text", "align": "left", "baseline": "alphabetic", "fontSize": 25, "color": "#000"},
     "encoding": {
       "x": {"datum": 427.45, "type": "quantitative", "scale": {"domain": [430, 450], "range": [1102, 1259], "nice": false, "zero": false}, "axis": null},
       "y": {"datum": 95.6, "type": "quantitative", "scale": {"domain": [0, 100], "range": [446, 60], "nice": false}, "axis": null},
       "text": {"field": "t"}}}
  ],
  "resolve": {"scale": {"x": "independent", "y": "independent"}, "axis": {"x": "independent", "y": "independent"}}
}
